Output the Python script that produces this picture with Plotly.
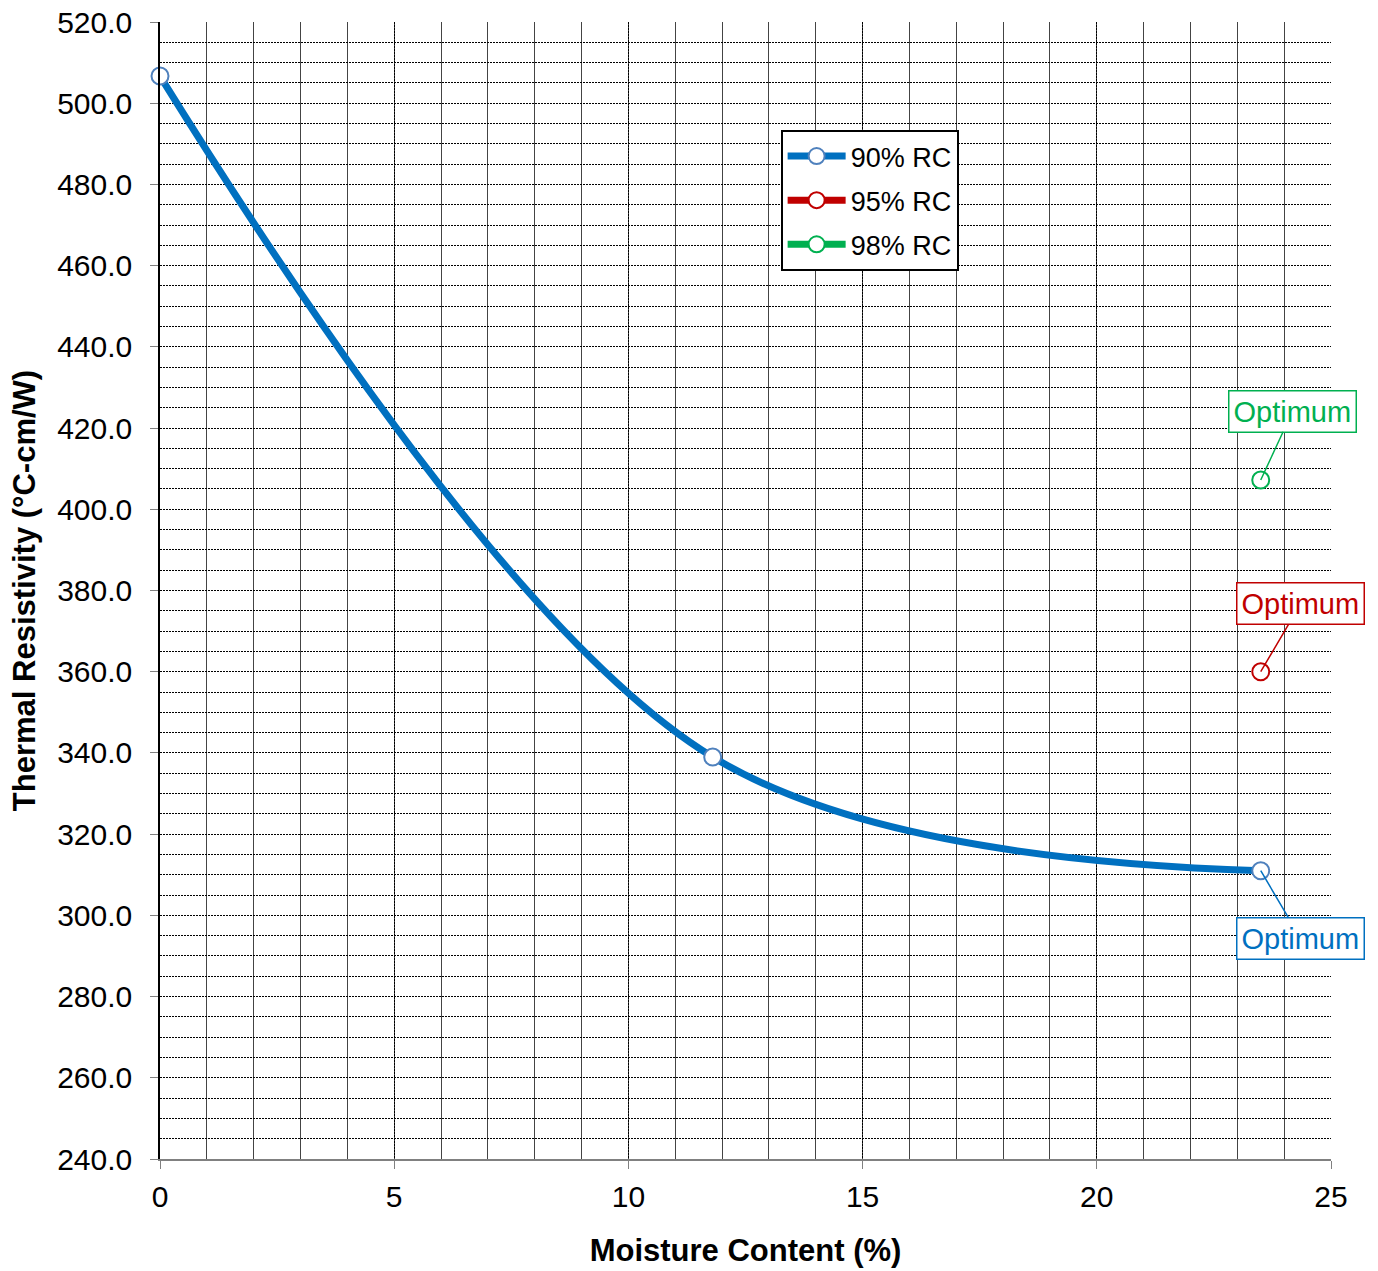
import plotly.graph_objects as go

# Thermal resistivity vs. moisture content
moisture_90 = [0.0, 11.8, 23.5]
resistivity_90 = [506.7, 339.0, 311.0]

moisture_95 = [23.5]
resistivity_95 = [360.0]

moisture_98 = [23.5]
resistivity_98 = [407.2]

series_names = ["90% RC", "95% RC", "98% RC"]
line_colors = ["#0070C0", "#C00000", "#00B050"]
marker_edges = ["#4F81BD", "#C00000", "#00B050"]

y_ticks = [240 + 20 * i for i in range(15)]
x_ticks = [0, 5, 10, 15, 20, 25]

FONT = "Liberation Sans, Arial, sans-serif"
TICK_SIZE = 30
TITLE_SIZE = 31

fig = go.Figure()

series = [
    (moisture_90, resistivity_90),
    (moisture_95, resistivity_95),
    (moisture_98, resistivity_98),
]
for (xs, ys), name, lc, mc in zip(series, series_names, line_colors, marker_edges):
    fig.add_trace(go.Scatter(
        x=xs, y=ys, name=name, legendgroup=name,
        mode="lines+markers",
        line=dict(color=lc, width=7, shape="spline", smoothing=1.0),
        marker=dict(size=17, color="white", line=dict(color=mc, width=2)),
        cliponaxis=False,
    ))

# "Optimum" call-outs at the last point of each series
callouts = [
    (moisture_98[-1], resistivity_98[-1], line_colors[2], 32, -69),
    (moisture_95[-1], resistivity_95[-1], line_colors[1], 40, -68),
    (moisture_90[-1], resistivity_90[-1], line_colors[0], 40, 68),
]
for x, y, c, ax, ay in callouts:
    fig.add_annotation(
        x=x, y=y, text="Optimum", showarrow=True,
        arrowhead=0, arrowwidth=1.5, arrowcolor=c,
        ax=ax, ay=ay,
        font=dict(family=FONT, size=29, color=c),
        bordercolor=c, borderwidth=1.5, borderpad=4,
        bgcolor="white",
    )

fig.update_layout(
    width=1378, height=1271,
    margin=dict(l=160, r=47, t=22, b=112),
    paper_bgcolor="white", plot_bgcolor="white",
    font=dict(family=FONT, size=TICK_SIZE, color="black"),
    legend=dict(
        x=0.530, y=0.905, xanchor="left", yanchor="top",
        bordercolor="black", borderwidth=2, bgcolor="white",
        font=dict(family=FONT, size=27, color="black"),
        itemwidth=58, tracegroupgap=6,
    ),
    showlegend=True,
)

fig.update_xaxes(
    range=[0, 25], tickvals=x_ticks, ticks="outside", ticklen=8,
    tickcolor="#808080", tickfont=dict(size=TICK_SIZE), ticklabelstandoff=2,
    showline=True, linecolor="#808080", linewidth=1.5, mirror=False,
    showgrid=True, gridcolor="black", gridwidth=1, griddash="2px,1px",
    minor=dict(dtick=1, showgrid=True, gridcolor="#444444", gridwidth=1, griddash="solid"),
    zeroline=False, automargin=False,
    title=dict(text="<b>Moisture Content (%)</b>", font=dict(size=TITLE_SIZE), standoff=28),
)
fig.update_yaxes(
    range=[240, 520], tickvals=y_ticks, tickformat=".1f", ticks="outside", ticklen=8,
    tickcolor="#808080", tickfont=dict(size=TICK_SIZE), ticklabelstandoff=12,
    showline=True, linecolor="black", linewidth=1.5,
    showgrid=True, gridcolor="black", gridwidth=1, griddash="2px,1px",
    minor=dict(dtick=5, showgrid=True, gridcolor="black", gridwidth=1, griddash="2px,1px"),
    zeroline=False, automargin=False,
    title=dict(text="<b>Thermal Resistivity (°C-cm/W)</b>", font=dict(size=TITLE_SIZE), standoff=12),
)

fig.write_html("out.html")
